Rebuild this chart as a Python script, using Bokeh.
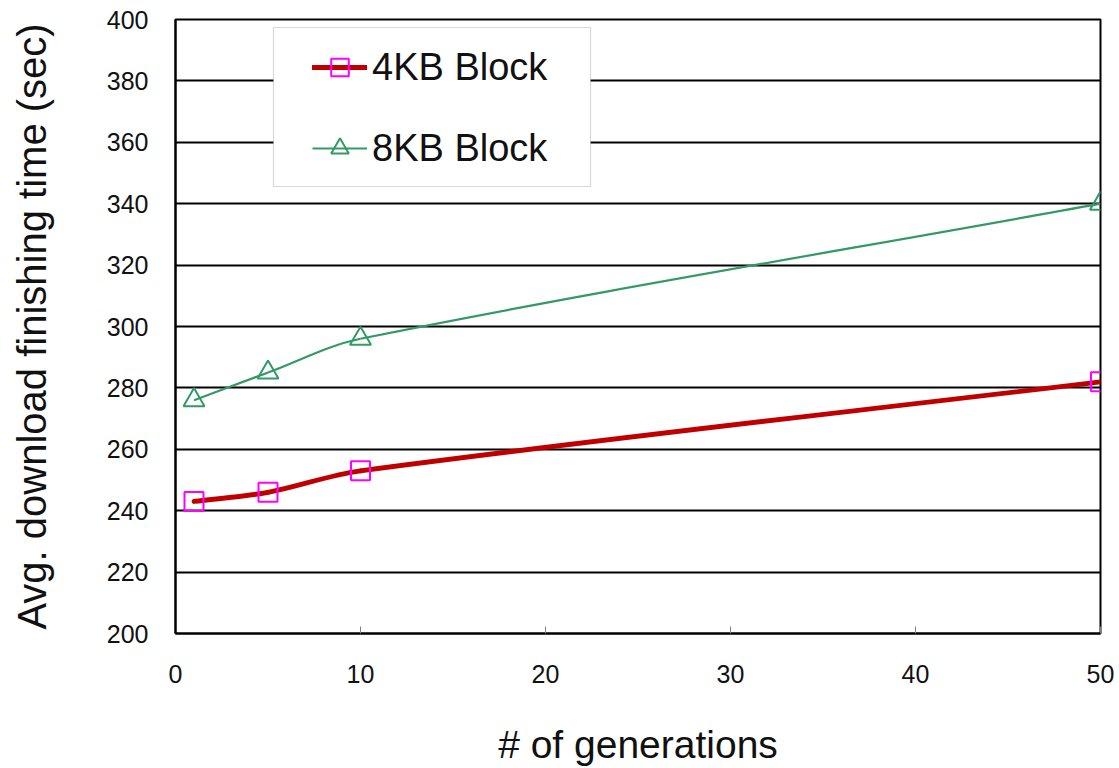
import math

from bokeh.embed import file_html
from bokeh.models import BoxAnnotation, FixedTicker, Legend, LegendItem, Range1d
from bokeh.plotting import figure
from bokeh.resources import INLINE

# ---- data -------------------------------------------------------------
generations = [1, 5, 10, 50]
time_4kb = [243, 246, 253, 282]
time_8kb = [276, 285, 296, 340]
series_labels = ["4KB Block", "8KB Block"]
x_ticks = [0, 10, 20, 30, 40, 50]
y_ticks = [200, 220, 240, 260, 280, 300, 320, 340, 360, 380, 400]
x_title = "# of generations"
y_title = "Avg. download finishing time (sec)"

# ---- layout -----------------------------------------------------------
W, H = 1119, 768
LEFT, RIGHT, TOP, BOTTOM = 175, 19, 19, 135
FRAME_W = W - LEFT - RIGHT
FRAME_H = H - TOP - BOTTOM
X_RANGE = (0, 50)
Y_RANGE = (200, 400)

FONT = "Liberation Sans"
TEXT = "#111111"
RED = "#C00000"
MAGENTA = "#FF00FF"
GREEN = "#339966"


def smooth_segments(xs, ys):
    """Cubic Bezier pieces through the points (chord-length weighted
    Catmull-Rom tangents, measured in screen pixels)."""
    kx = FRAME_W / (X_RANGE[1] - X_RANGE[0])
    ky = FRAME_H / (Y_RANGE[1] - Y_RANGE[0])
    n = len(xs)
    c_in, c_out = [], []
    for i in range(n):
        a, b = max(i - 1, 0), min(i + 1, n - 1)
        dx, dy = xs[b] - xs[a], ys[b] - ys[a]
        lp = math.hypot((xs[i] - xs[a]) * kx, (ys[i] - ys[a]) * ky)
        ln = math.hypot((xs[b] - xs[i]) * kx, (ys[b] - ys[i]) * ky)
        tot = lp + ln
        fo, fi = ln / (3 * tot), lp / (3 * tot)
        c_out.append((xs[i] + dx * fo, ys[i] + dy * fo))
        c_in.append((xs[i] - dx * fi, ys[i] - dy * fi))
    seg = dict(x0=[], y0=[], x1=[], y1=[], cx0=[], cy0=[], cx1=[], cy1=[])
    for i in range(n - 1):
        seg["x0"].append(xs[i]); seg["y0"].append(ys[i])
        seg["x1"].append(xs[i + 1]); seg["y1"].append(ys[i + 1])
        seg["cx0"].append(c_out[i][0]); seg["cy0"].append(c_out[i][1])
        seg["cx1"].append(c_in[i + 1][0]); seg["cy1"].append(c_in[i + 1][1])
    return seg


p = figure(
    width=W, height=H,
    x_range=Range1d(*X_RANGE), y_range=Range1d(*Y_RANGE),
    output_backend="svg", toolbar_location=None,
    min_border_left=LEFT, min_border_right=RIGHT,
    min_border_top=TOP, min_border_bottom=BOTTOM,
)
p.background_fill_color = "white"
p.border_fill_color = "white"
p.outline_line_color = "black"
p.outline_line_width = 2

# grid
p.xgrid.visible = False
p.ygrid.ticker = FixedTicker(ticks=y_ticks)
p.ygrid.grid_line_color = "black"
p.ygrid.grid_line_width = 2

# axes
xa, ya = p.xaxis[0], p.yaxis[0]
xa.ticker = FixedTicker(ticks=x_ticks)
ya.ticker = FixedTicker(ticks=y_ticks)
for ax in (xa, ya):
    ax.axis_line_color = "black"
    ax.axis_line_width = 2
    ax.minor_tick_line_color = None
    ax.major_label_text_font = FONT
    ax.major_label_text_font_size = "25px"
    ax.major_label_text_color = TEXT
    ax.axis_label_text_font = FONT
    ax.axis_label_text_font_style = "normal"
    ax.axis_label_text_color = TEXT

xa.major_tick_in = 7
xa.major_tick_out = 0
xa.major_tick_line_color = "#808080"
xa.major_tick_line_width = 1
xa.major_label_standoff = 31
xa.axis_label = x_title
xa.axis_label_text_font_size = "39px"
xa.axis_label_standoff = 37

ya.major_tick_in = 0
ya.major_tick_out = 0
ya.major_tick_line_color = None
ya.major_label_standoff = 27
ya.axis_label = y_title
ya.axis_label_text_font_size = "40px"
ya.axis_label_standoff = 50

# smoothed series curves
s4 = smooth_segments(generations, time_4kb)
s8 = smooth_segments(generations, time_8kb)
c8 = p.bezier(source=s8, x0="x0", y0="y0", x1="x1", y1="y1",
              cx0="cx0", cy0="cy0", cx1="cx1", cy1="cy1",
              line_color=GREEN, line_width=2.2)
c4 = p.bezier(source=s4, x0="x0", y0="y0", x1="x1", y1="y1",
              cx0="cx0", cy0="cy0", cx1="cx1", cy1="cy1",
              line_color=RED, line_width=4.8, line_cap="round",
              line_join="round")

# markers
m8 = p.scatter(generations, time_8kb, marker="triangle", size=21,
               fill_color=None, line_color=GREEN, line_width=2)
m4 = p.scatter(generations, time_4kb, marker="square", size=19,
               fill_color=None, line_color=MAGENTA, line_width=2)

# legend frame (pixel offsets from the frame's bottom-left corner)
legend_box = BoxAnnotation(
    left=98, right=415, bottom=447, top=606,
    left_units="screen", right_units="screen",
    top_units="screen", bottom_units="screen",
    fill_color="white", fill_alpha=1.0,
    line_color="#808080", line_width=1.2,
)
p.add_layout(legend_box)

legend = Legend(
    items=[
        LegendItem(label=series_labels[0], renderers=[c4, m4]),
        LegendItem(label=series_labels[1], renderers=[c8, m8]),
    ],
    location=(137, 463),
    padding=0, margin=0, spacing=37,
    glyph_width=55, glyph_height=44, label_height=44,
    label_standoff=5,
    label_text_font=FONT, label_text_font_size="38px",
    label_text_color=TEXT,
    background_fill_alpha=0, border_line_alpha=0,
)
p.add_layout(legend)

open("out.html", "w").write(file_html(p, INLINE))
